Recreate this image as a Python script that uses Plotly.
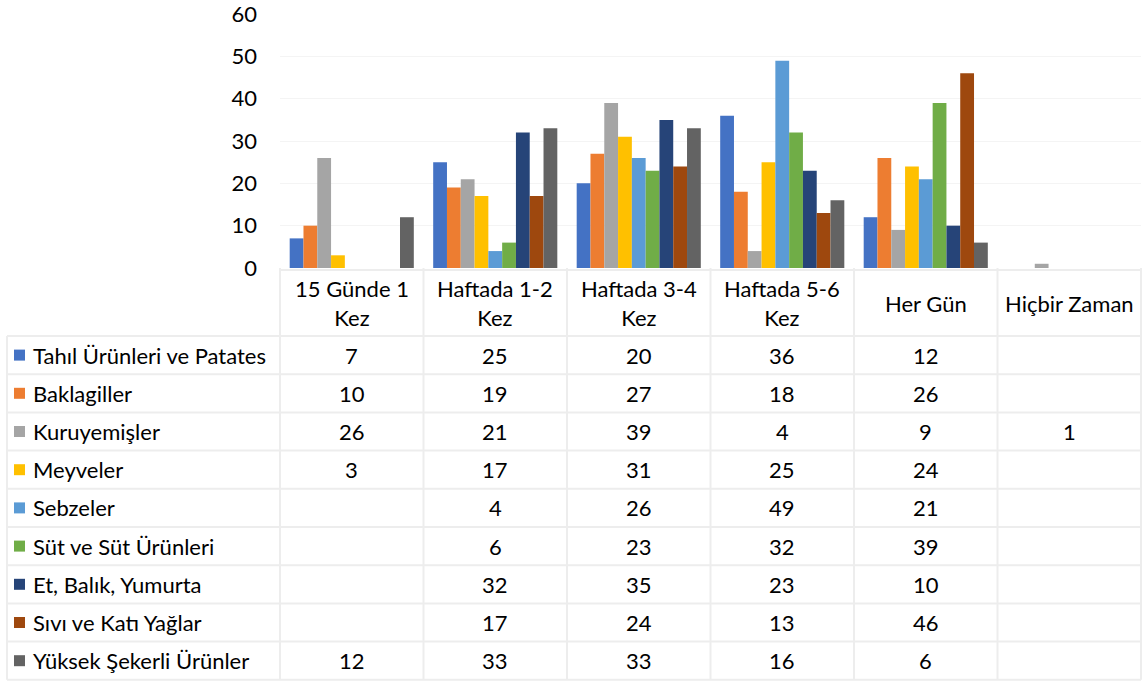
import plotly.graph_objects as go

# Frequency categories (table header / x axis)
categories = ["15 Günde 1<br>Kez", "Haftada 1-2<br>Kez", "Haftada 3-4<br>Kez",
              "Haftada 5-6<br>Kez", "Her Gün", "Hiçbir Zaman"]

series_names = ["Tahıl Ürünleri ve Patates", "Baklagiller", "Kuruyemişler", "Meyveler",
                "Sebzeler", "Süt ve Süt Ürünleri", "Et, Balık, Yumurta",
                "Sıvı ve Katı Yağlar", "Yüksek Şekerli Ürünler"]

tahil = [7, 25, 20, 36, 12, None]
baklagiller = [10, 19, 27, 18, 26, None]
kuruyemis = [26, 21, 39, 4, 9, 1]
meyveler = [3, 17, 31, 25, 24, None]
sebzeler = [None, 4, 26, 49, 21, None]
sut = [None, 6, 23, 32, 39, None]
et = [None, 32, 35, 23, 10, None]
yag = [None, 17, 24, 13, 46, None]
seker = [12, 33, 33, 16, 6, None]

series_values = [tahil, baklagiller, kuruyemis, meyveler, sebzeler, sut, et, yag, seker]

colors = ["#4472C4", "#ED7D31", "#A5A5A5", "#FFC000", "#5B9BD5",
          "#70AD47", "#264478", "#9E480E", "#636363"]

y_ticks = [0, 10, 20, 30, 40, 50, 60]

W, H = 1147, 681
FONT = "Lato"
FS = 22


def px(x):
    return x / W


def py(y):
    return 1 - y / H


# plot area / table geometry in pixels
plot_left, plot_right = 280, 1141
plot_top, plot_bottom = 14, 268
table_left = 7
header_bottom = 336
row_h = 38.2

fig = go.Figure()
for name, vals, col in zip(series_names, series_values, colors):
    fig.add_trace(go.Bar(
        x=categories, y=vals, name=name,
        marker=dict(color=col, line=dict(width=0)),
        showlegend=False, hoverinfo="y+name",
    ))

shapes = []
annotations = []
grid_col = "#EDEDED"

# table grid
col_w = (plot_right - plot_left) / len(categories)
col_edges = [plot_left + i * col_w for i in range(len(categories) + 1)]
n_rows = len(series_names)
table_bottom = header_bottom + n_rows * row_h

# verticals
for xe in col_edges:
    shapes.append(dict(type="line", xref="paper", yref="paper",
                       x0=px(xe), x1=px(xe), y0=py(plot_bottom), y1=py(table_bottom),
                       line=dict(color=grid_col, width=2)))
shapes.append(dict(type="line", xref="paper", yref="paper",
                   x0=px(table_left), x1=px(table_left), y0=py(header_bottom), y1=py(table_bottom),
                   line=dict(color=grid_col, width=2)))
# horizontals
shapes.append(dict(type="line", xref="paper", yref="paper",
                   x0=px(plot_left), x1=px(plot_right), y0=py(plot_bottom + 2), y1=py(plot_bottom + 2),
                   line=dict(color=grid_col, width=2)))
for r in range(n_rows + 1):
    yy = header_bottom + r * row_h
    shapes.append(dict(type="line", xref="paper", yref="paper",
                       x0=px(table_left), x1=px(plot_right), y0=py(yy), y1=py(yy),
                       line=dict(color=grid_col, width=2)))

# header labels
for i, cat in enumerate(categories):
    annotations.append(dict(xref="paper", yref="paper",
                            x=px(col_edges[i] + col_w / 2), y=py((plot_bottom + header_bottom) / 2 + 1),
                            text=cat, showarrow=False, xanchor="center", yanchor="middle",
                            font=dict(family=FONT, size=FS, color="#000000")))

# rows: legend key, series name, values
for r, (name, vals, col) in enumerate(zip(series_names, series_values, colors)):
    yc = header_bottom + r * row_h + row_h / 2
    shapes.append(dict(type="rect", xref="paper", yref="paper",
                       x0=px(14), x1=px(25), y0=py(yc - 5.5), y1=py(yc + 5.5),
                       fillcolor=col, line=dict(width=0)))
    annotations.append(dict(xref="paper", yref="paper", x=px(31), y=py(yc),
                            text=name, showarrow=False, xanchor="left", yanchor="middle",
                            font=dict(family=FONT, size=FS, color="#000000")))
    for i, v in enumerate(vals):
        if v is None:
            continue
        annotations.append(dict(xref="paper", yref="paper",
                                x=px(col_edges[i] + col_w / 2), y=py(yc),
                                text=str(v), showarrow=False, xanchor="center", yanchor="middle",
                                font=dict(family=FONT, size=FS, color="#000000")))

fig.update_layout(
    width=W, height=H,
    margin=dict(l=0, r=0, t=0, b=0, pad=0, autoexpand=False),
    paper_bgcolor="white", plot_bgcolor="white",
    barmode="group", bargap=0.135, bargroupgap=0,
    xaxis=dict(domain=[px(plot_left), px(plot_right)], showticklabels=False,
               showgrid=False, zeroline=False, showline=False, ticks="", automargin=False),
    yaxis=dict(domain=[py(plot_bottom), py(plot_top)], range=[0, 60.02],
               tickvals=y_ticks, ticktext=[str(t) for t in y_ticks],
               showgrid=True, gridcolor="#F4F4F4", gridwidth=1,
               zeroline=False, showline=False, ticks="", automargin=False,
               ticklabelstandoff=22, ticklabeloverflow="allow",
               tickfont=dict(family=FONT, size=FS, color="#000000")),
    shapes=shapes, annotations=annotations,
)

fig.write_html("out.html")
